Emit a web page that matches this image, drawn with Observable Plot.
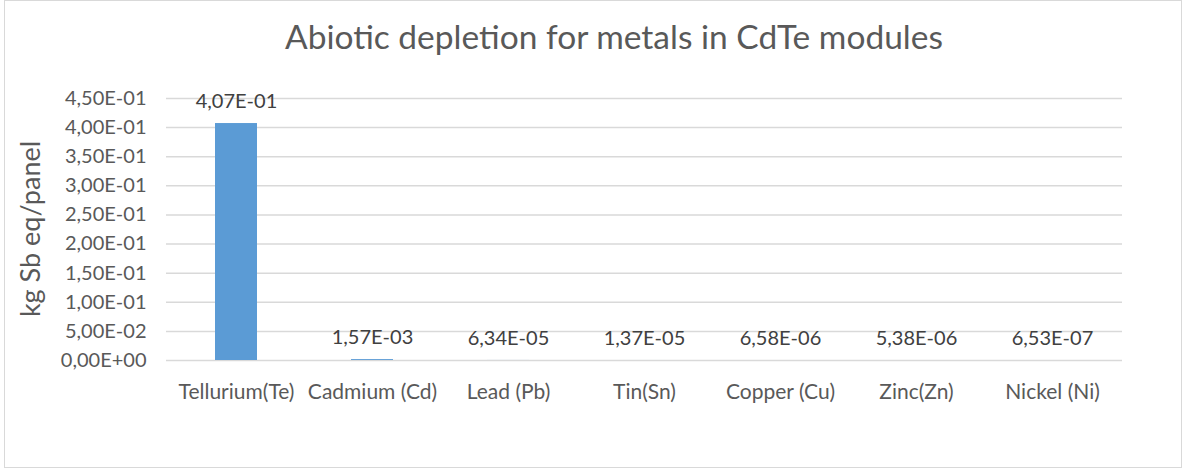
<!DOCTYPE html>
<html>
<head>
<meta charset="utf-8">
<script src="https://cdn.jsdelivr.net/npm/d3@7"></script>
<script src="https://cdn.jsdelivr.net/npm/@observablehq/plot@0.6"></script>
<style>
  html, body { margin: 0; padding: 0; background: #fff; }
  body { width: 1185px; height: 470px; position: relative; overflow: hidden; font-family: Lato, "Open Sans", sans-serif; }
  #frame { position: absolute; left: 4px; top: 0px; width: 1176px; height: 466px; border: 1.5px solid #d9d9d9; box-sizing: content-box; }
  #title { position: absolute; left: 0; width: 1228px; top: 16px; line-height: 40px; text-align: center; font-size: 33.5px; color: #595959; white-space: nowrap; }
  #ylabel { position: absolute; left: 30px; top: 229px; transform: translate(-50%, -50%) rotate(-90deg); font-size: 27px; line-height: 30px; color: #595959; white-space: nowrap; }
  #chart { position: absolute; left: 0; top: 60px; }
</style>
</head>
<body>
<div id="frame"></div>
<div id="title">Abiotic depletion for metals in CdTe modules</div>
<div id="ylabel"></div>
<div id="chart"></div>
<script>
// Metals and their abiotic depletion per panel (kg Sb eq)
const metals = ["Tellurium(Te)", "Cadmium (Cd)", "Lead (Pb)", "Tin(Sn)", "Copper (Cu)", "Zinc(Zn)", "Nickel (Ni)"];
const depletion = [4.07e-1, 1.57e-3, 6.34e-5, 1.37e-5, 6.58e-6, 5.38e-6, 6.53e-7];
const yTicks = [0, 0.05, 0.10, 0.15, 0.20, 0.25, 0.30, 0.35, 0.40, 0.45];
const yLabel = "kg Sb eq/panel";

const data = metals.map((m, i) => ({metal: m, value: depletion[i]}));

// Scientific notation with a decimal comma, e.g. 4,07E-01
function sci(v) {
  const [m, e] = v.toExponential(2).split("e");
  const n = +e;
  return m.replace(".", ",") + "E" + (n < 0 ? "-" : "+") + String(Math.abs(n)).padStart(2, "0");
}

document.getElementById("ylabel").textContent = yLabel;

const chart = Plot.plot({
  width: 1185,
  height: 400,
  marginLeft: 166,
  marginRight: 63,
  marginTop: 38,
  marginBottom: 100,
  style: {fontFamily: "Lato, 'Open Sans', sans-serif", background: "transparent"},
  x: {domain: metals, paddingInner: 0.69, paddingOuter: 0.345, label: null},
  y: {domain: [0, 0.45], label: null},
  marks: [
    Plot.gridY(yTicks, {stroke: "#d9d9d9", strokeOpacity: 1, strokeWidth: 1.5}),
    Plot.axisY(yTicks, {
      tickSize: 0, tickPadding: 20, tickFormat: sci,
      fontSize: 20, fill: "#595959", label: null
    }),
    Plot.axisX({
      tickSize: 0, tickPadding: 24, fontSize: 21, fill: "#595959", label: null
    }),
    Plot.barY(data, {x: "metal", y: "value", fill: "#5b9bd5"}),
    Plot.text(data, {
      x: "metal", y: "value", text: d => sci(d.value),
      dy: -22, fontSize: 20, fill: "#404040"
    })
  ]
});
document.getElementById("chart").appendChild(chart);
</script>
</body>
</html>
